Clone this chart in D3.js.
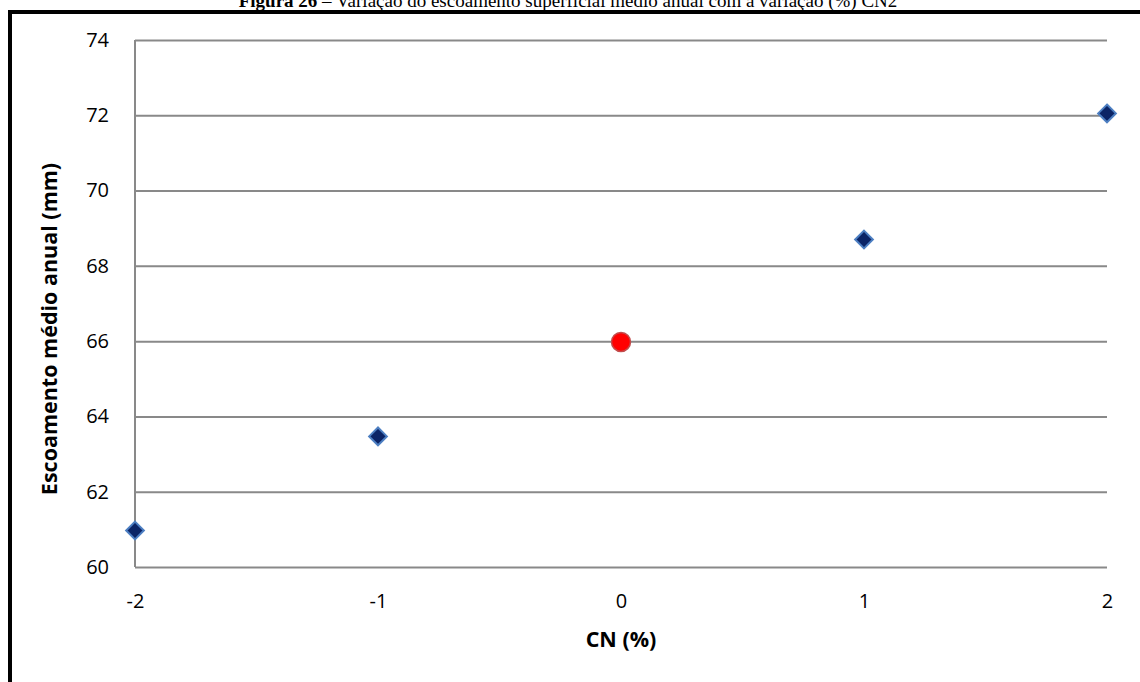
<!DOCTYPE html>
<html><head><meta charset="utf-8">
<script src="https://cdn.jsdelivr.net/npm/d3@7"></script>
<style>body{margin:0;background:#fff}svg{display:block}</style>
</head><body>
<svg id="c" width="1140" height="682"></svg>
<script>
const cnValues = [-2, -1, 0, 1, 2];
const runoff = [60.97, 63.47, 65.98, 68.70, 72.05];
const baseIndex = 2;
const yTicks = [60, 62, 64, 66, 68, 70, 72, 74];
const xTicks = [-2, -1, 0, 1, 2];
const titleBold = "Figura 26";
const titleRest = " – Variação do escoamento superficial médio anual com a variação (%) CN2";
const xLabel = "CN (%)";
const yLabel = "Escoamento médio anual (mm)";

const svg = d3.select("#c");
const font = "'Open Sans', sans-serif";
const L = 135, R = 1107, T = 40, B = 567;
const x = d3.scaleLinear().domain([-2, 2]).range([L, R]);
const y = d3.scaleLinear().domain([60, 74]).range([B, T]);
const fmt = d => String(d);

// title (cut off at top as in the source)
const t = svg.append("text").attr("x", 568).attr("y", 7).attr("text-anchor", "middle")
  .attr("font-family", "'Liberation Serif', 'Times New Roman', serif").attr("font-size", 19);
t.append("tspan").attr("font-weight", "bold").text(titleBold);
t.append("tspan").text(titleRest);

// frame
svg.append("path").attr("d", `M10,682 V12 H1142`).attr("fill", "none")
  .attr("stroke", "#000").attr("stroke-width", 4);

// grid
const yAxis = d3.axisLeft(y).tickValues(yTicks).tickSize(-(R - L)).tickPadding(26).tickFormat(fmt);
const gy = svg.append("g").attr("transform", `translate(${L},0)`).call(yAxis);
gy.select(".domain").remove();
gy.selectAll(".tick line").attr("stroke", "#898989").attr("stroke-width", 2);
gy.selectAll(".tick text").attr("font-family", font).attr("font-size", 20).attr("fill", "#000");

const xAxis = d3.axisBottom(x).tickValues(xTicks).tickSize(0).tickPadding(27).tickFormat(fmt);
const gx = svg.append("g").attr("transform", `translate(0,${B})`).call(xAxis);
gx.select(".domain").remove();
gx.selectAll(".tick text").attr("font-family", font).attr("font-size", 20).attr("fill", "#000");

// left axis line
svg.append("line").attr("x1", L).attr("x2", L).attr("y1", T).attr("y2", B)
  .attr("stroke", "#898989").attr("stroke-width", 2);

// labels
svg.append("text").attr("x", 621).attr("y", 647).attr("text-anchor", "middle")
  .attr("font-family", font).attr("font-weight", "bold").attr("font-size", 21.5).text(xLabel);
svg.append("text").attr("transform", `translate(57,329) rotate(-90)`).attr("text-anchor", "middle")
  .attr("font-family", font).attr("font-weight", "bold").attr("font-size", 21.5).text(yLabel);

// points
const pts = cnValues.map((c, i) => ({ c, v: runoff[i], base: i === baseIndex }));
svg.selectAll("path.dia").data(pts.filter(d => !d.base)).join("path").attr("class", "dia")
  .attr("d", d3.symbol().type(d3.symbolDiamond2).size(200))
  .attr("transform", d => `translate(${x(d.c)},${y(d.v)})`)
  .attr("fill", "#0b2466").attr("stroke", "#4d7fc2").attr("stroke-width", 2);
svg.selectAll("circle.base").data(pts.filter(d => d.base)).join("circle").attr("class", "base")
  .attr("cx", d => x(d.c)).attr("cy", d => y(d.v)).attr("r", 9.5)
  .attr("fill", "#ff0000").attr("stroke", "#c24b4b").attr("stroke-width", 1.5);
</script>
</body></html>
